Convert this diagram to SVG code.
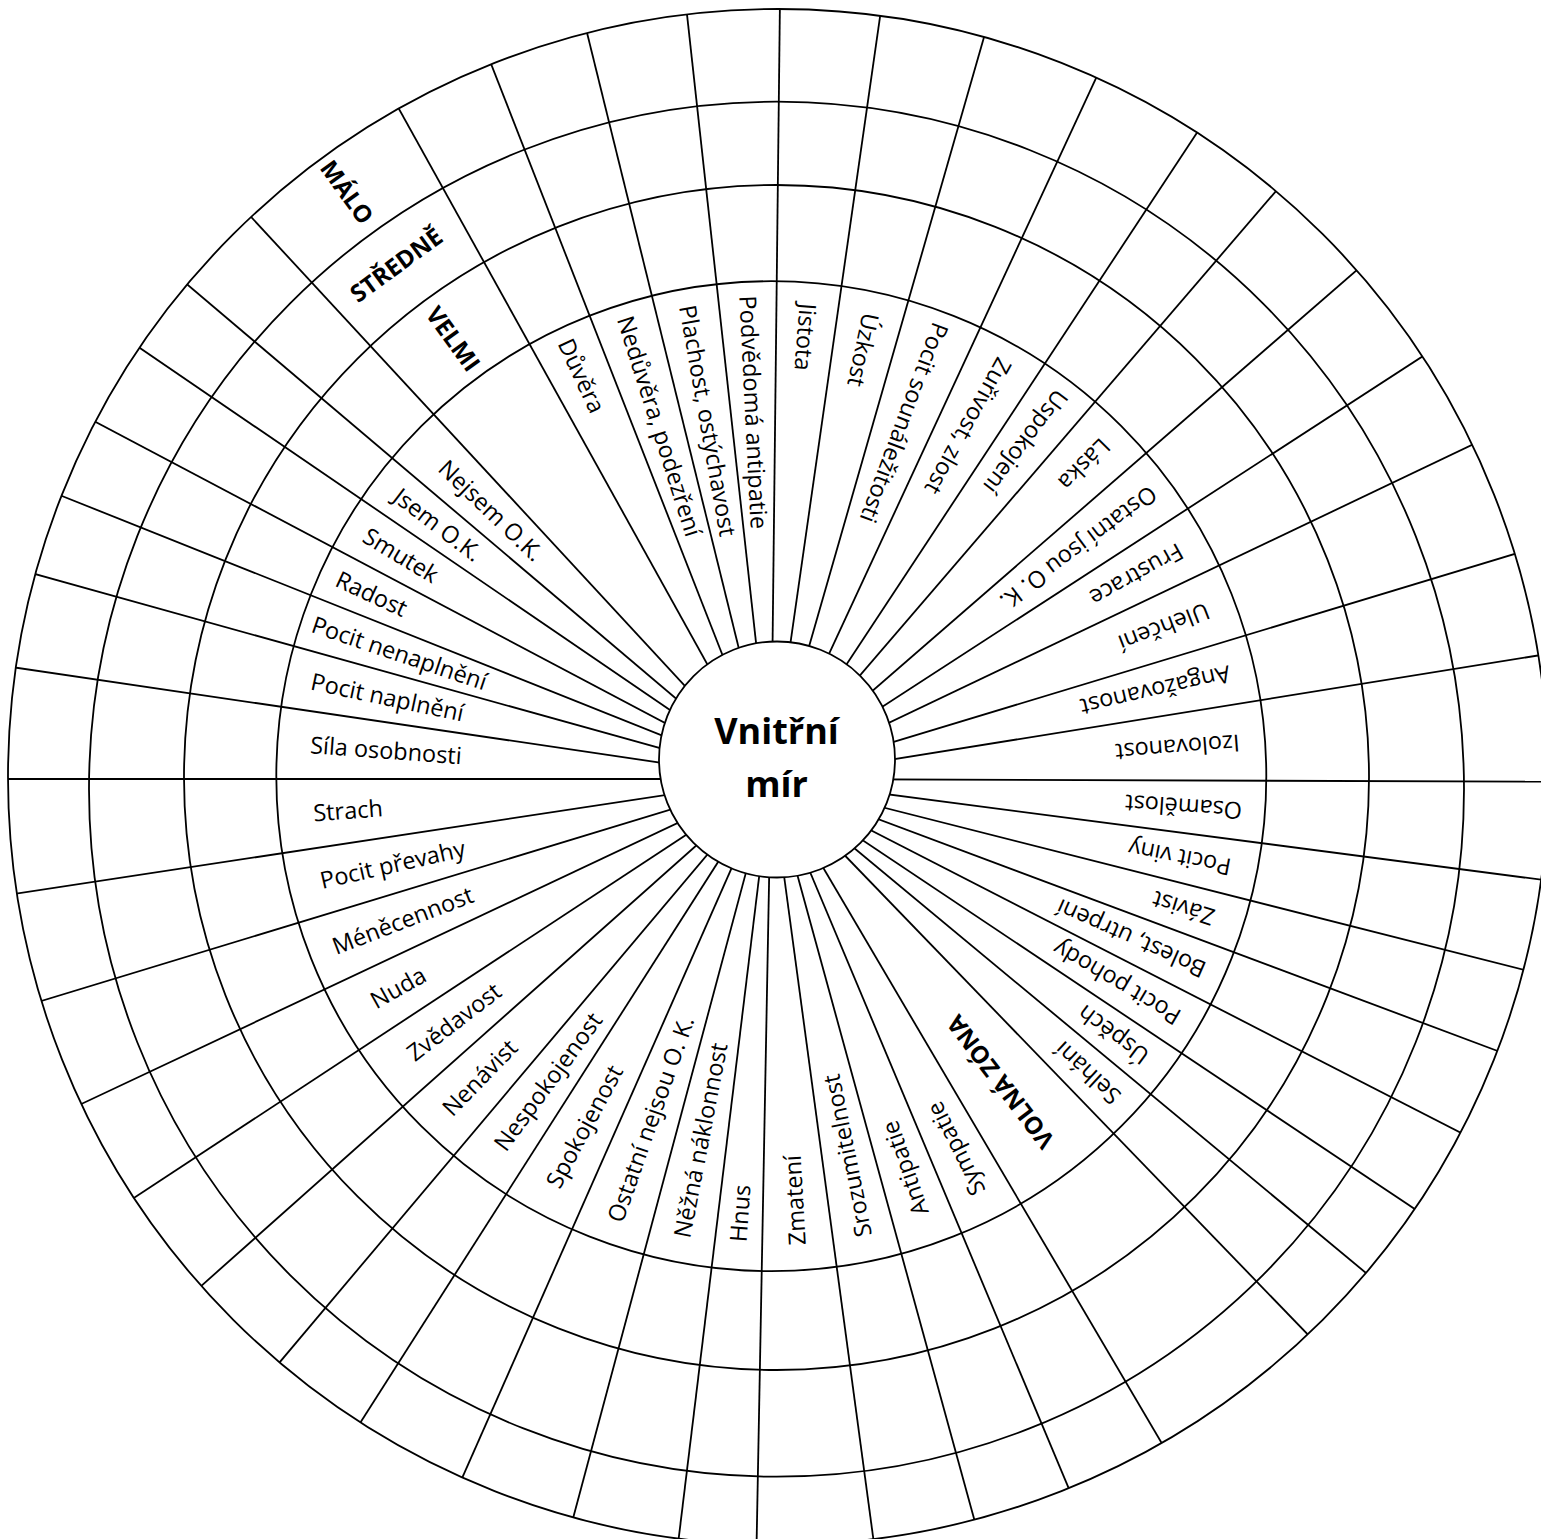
<svg xmlns="http://www.w3.org/2000/svg" width="1541" height="1539" viewBox="0 0 1541 1539">
<style>
.ln{stroke:#000;stroke-width:1.8;fill:none}
.lb{font-family:'Open Sans','Noto Sans','DejaVu Sans',sans-serif;font-size:23.5px;fill:#000}
.bd{font-family:'Open Sans','Noto Sans','DejaVu Sans',sans-serif;font-size:24px;font-weight:700;fill:#000;text-anchor:middle}
.ct{font-family:'Open Sans','Noto Sans','DejaVu Sans',sans-serif;font-size:36px;font-weight:700;fill:#000;text-anchor:middle}
</style>
<defs>
<clipPath id="oc"><ellipse cx="778" cy="777" rx="770" ry="768"/></clipPath>
<line id="sp" x1="771" y1="779" x2="771" y2="-130"/>
</defs>
<rect width="1541" height="1539" fill="#fff"/>
<g id="connectors" class="ln" clip-path="url(#oc)">
<use href="#sp" transform="rotate(0.66 771 779)"/>
<use href="#sp" transform="rotate(8.14 771 779)"/>
<use href="#sp" transform="rotate(16.02 771 779)"/>
<use href="#sp" transform="rotate(24.88 771 779)"/>
<use href="#sp" transform="rotate(33.39 771 779)"/>
<use href="#sp" transform="rotate(40.66 771 779)"/>
<use href="#sp" transform="rotate(49.02 771 779)"/>
<use href="#sp" transform="rotate(57.03 771 779)"/>
<use href="#sp" transform="rotate(64.52 771 779)"/>
<use href="#sp" transform="rotate(73.16 771 779)"/>
<use href="#sp" transform="rotate(80.85 771 779)"/>
<use href="#sp" transform="rotate(90.2 771 779)"/>
<use href="#sp" transform="rotate(97.45 771 779)"/>
<use href="#sp" transform="rotate(104.22 771 779)"/>
<use href="#sp" transform="rotate(110.52 771 779)"/>
<use href="#sp" transform="rotate(117.15 771 779)"/>
<use href="#sp" transform="rotate(123.74 771 779)"/>
<use href="#sp" transform="rotate(129.7 771 779)"/>
<use href="#sp" transform="rotate(135.98 771 779)"/>
<use href="#sp" transform="rotate(149.53 771 779)"/>
<use href="#sp" transform="rotate(157.23 771 779)"/>
<use href="#sp" transform="rotate(164.65 771 779)"/>
<use href="#sp" transform="rotate(172.33 771 779)"/>
<use href="#sp" transform="rotate(181.08 771 779)"/>
<use href="#sp" transform="rotate(186.93 771 779)"/>
<use href="#sp" transform="rotate(194.99 771 779)"/>
<use href="#sp" transform="rotate(203.84 771 779)"/>
<use href="#sp" transform="rotate(212.54 771 779)"/>
<use href="#sp" transform="rotate(220.11 771 779)"/>
<use href="#sp" transform="rotate(228.34 771 779)"/>
<use href="#sp" transform="rotate(236.67 771 779)"/>
<use href="#sp" transform="rotate(244.77 771 779)"/>
<use href="#sp" transform="rotate(253.08 771 779)"/>
<use href="#sp" transform="rotate(261.37 771 779)"/>
<use href="#sp" transform="rotate(270 771 779)"/>
<use href="#sp" transform="rotate(278.39 771 779)"/>
<use href="#sp" transform="rotate(285.56 771 779)"/>
<use href="#sp" transform="rotate(291.76 771 779)"/>
<use href="#sp" transform="rotate(297.87 771 779)"/>
<use href="#sp" transform="rotate(304.33 771 779)"/>
<use href="#sp" transform="rotate(310.27 771 779)"/>
<use href="#sp" transform="rotate(317.23 771 779)"/>
<use href="#sp" transform="rotate(330.96 771 779)"/>
<use href="#sp" transform="rotate(338.62 771 779)"/>
<use href="#sp" transform="rotate(346.15 771 779)"/>
<use href="#sp" transform="rotate(353.73 771 779)"/>
</g>
<g id="rings" class="ln">
<circle cx="771.3" cy="776.2" r="495"/>
<circle cx="776.5" cy="777.5" r="592.5"/>
<circle cx="776.5" cy="789.2" r="687.5"/>
<ellipse cx="778" cy="777" rx="770" ry="768"/>
</g>
<g id="center">
<circle cx="777" cy="759.5" r="118" fill="#fff" stroke="#000" stroke-width="1.8"/>
<text class="ct" x="776.5" y="744">Vnitřní</text>
<text class="ct" x="776.5" y="797">mír</text>
</g>
<g id="labels" class="lb">
<g id="n01"><text transform="rotate(94.40 771 779)" x="294" y="787">Jistota</text></g>
<g id="n02"><text transform="rotate(102.08 771 779)" x="295" y="787">Úzkost</text></g>
<g id="n03"><text transform="rotate(110.45 771 779)" x="285" y="787">Pocit sounáležitosti</text></g>
<g id="n04"><text transform="rotate(119.14 771 779)" x="291" y="787">Zuřivost, zlost</text></g>
<g id="n05"><text transform="rotate(127.03 771 779)" x="287" y="787">Uspokojení</text></g>
<g id="n06"><text transform="rotate(134.84 771 779)" x="296" y="787">Láska</text></g>
<g id="n07"><text transform="rotate(143.03 771 779)" x="292" y="787">Ostatní jsou O. K.</text></g>
<g id="n08"><text transform="rotate(150.78 771 779)" x="301" y="787">Frustrace</text></g>
<g id="n09"><text transform="rotate(158.84 771 779)" x="302" y="787">Ulehčení</text></g>
<g id="n10"><text transform="rotate(167.0 771 779)" x="300" y="787">Angažovanost</text></g>
<g id="n11"><text transform="rotate(175.53 771 779)" x="301" y="787">Izolovanost</text></g>
<g id="n12"><text transform="rotate(183.83 771 779)" x="299" y="787">Osamělost</text></g>
<g id="n13"><text transform="rotate(190.84 771 779)" x="303" y="787">Pocit viny</text></g>
<g id="n14"><text transform="rotate(197.37 771 779)" x="307" y="787">Závist</text></g>
<g id="n15"><text transform="rotate(203.84 771 779)" x="297" y="787">Bolest, utrpení</text></g>
<g id="n16"><text transform="rotate(210.45 771 779)" x="298" y="787">Pocit pohody</text></g>
<g id="n17"><text transform="rotate(216.72 771 779)" x="303" y="787">Úspěch</text></g>
<g id="n18"><text transform="rotate(222.84 771 779)" x="299" y="787">Selhání</text></g>
<g id="n19"><text class="bd" transform="rotate(232.76 771 779)" x="391" y="787">VOLNÁ ZÓNA</text></g>
<g id="n20"><text transform="rotate(243.38 771 779)" x="307" y="787">Sympatie</text></g>
<g id="n21"><text transform="rotate(250.94 771 779)" x="310" y="787">Antipatie</text></g>
<g id="n22"><text transform="rotate(258.49 771 779)" x="304" y="787">Srozumitelnost</text></g>
<g id="n23"><text transform="rotate(266.71 771 779)" x="304" y="787">Zmatení</text></g>
<g id="n24"><text transform="rotate(274.0 771 779)" x="307" y="787">Hnus</text></g>
<g id="n25"><text transform="rotate(280.96 771 779)" x="304" y="787">Něžná náklonnost</text></g>
<g id="n26"><text transform="rotate(289.42 771 779)" x="302" y="787">Ostatní nejsou O. K.</text></g>
<g id="n27"><text transform="rotate(298.19 771 779)" x="309" y="787">Spokojenost</text></g>
<g id="n28"><text transform="rotate(306.33 771 779)" x="313" y="787">Nespokojenost</text></g>
<g id="n29"><text transform="rotate(314.23 771 779)" x="306" y="787">Nenávist</text></g>
<g id="n30"><text transform="rotate(322.5 771 779)" x="316" y="787">Zvědavost</text></g>
<g id="n31"><text transform="rotate(330.72 771 779)" x="314" y="787">Nuda</text></g>
<g id="n32"><text transform="rotate(338.93 771 779)" x="302" y="787">Méněcennost</text></g>
<g id="n33"><text transform="rotate(347.23 771 779)" x="309" y="787">Pocit převahy</text></g>
<g id="n34"><text transform="rotate(355.69 771 779)" x="312" y="787">Strach</text></g>
<g id="n35"><text transform="rotate(4.2 771 779)" x="309" y="787">Síla osobnosti</text></g>
<g id="n36"><text transform="rotate(11.98 771 779)" x="301" y="787">Pocit naplnění</text></g>
<g id="n37"><text transform="rotate(18.66 771 779)" x="287" y="787">Pocit nenaplnění</text></g>
<g id="n38"><text transform="rotate(24.82 771 779)" x="293" y="787">Radost</text></g>
<g id="n39"><text transform="rotate(31.1 771 779)" x="297" y="787">Smutek</text></g>
<g id="n40"><text transform="rotate(37.3 771 779)" x="300" y="787">Jsem O.K.</text></g>
<g id="n41"><text transform="rotate(43.75 771 779)" x="316" y="787">Nejsem O.K.</text></g>
<g id="n42"><text class="bd" transform="rotate(54.1 771 779)" x="228" y="787">VELMI</text>
<text class="bd" transform="rotate(323.9 771 779)" x="771" y="151.5">STŘEDNĚ</text>
<text class="bd" transform="rotate(54.1 771 779)" x="47" y="787">MÁLO</text></g>
<g id="n43"><text transform="rotate(64.79 771 779)" x="286" y="787">Důvěra</text></g>
<g id="n44"><text transform="rotate(72.39 771 779)" x="286" y="787">Nedůvěra, podezření</text></g>
<g id="n45"><text transform="rotate(79.94 771 779)" x="290" y="787">Plachost, ostýchavost</text></g>
<g id="n46"><text transform="rotate(87.2 771 779)" x="287" y="787">Podvědomá antipatie</text></g>
</g>
</svg>
